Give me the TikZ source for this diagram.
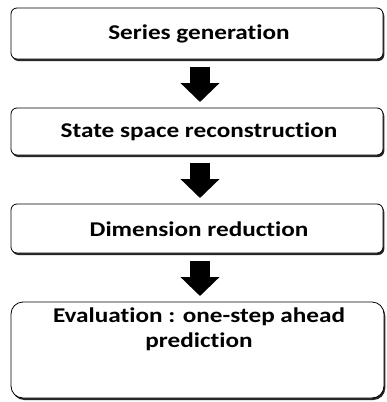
\documentclass[tikz,border=0pt]{standalone}
\usepackage{fontspec}
\setmainfont[Ligatures=NoCommon,FakeStretch=1.2]{Carlito}
\usetikzlibrary{arrows.meta,shadows}
\begin{document}
\begin{tikzpicture}[x=1pt,y=1pt,
  stagebox/.style={draw=black, line width=0.8pt, rounded corners=6pt, fill=white,
    drop shadow={shadow xshift=1.3pt, shadow yshift=-2pt, opacity=1, fill=black!85}},
  stagetext/.style={font=\bfseries\fontsize{21}{25}\selectfont, align=center},
  blockarrow/.style={line width=20pt, -{Triangle[length=19pt,width=38pt]}, shorten <=7pt, shorten >=6pt}]
\useasboundingbox (0,0) rectangle (386,-402);
\fill[white] (0,0) rectangle (386,-402);
\path[stagebox] (11,-8) rectangle (383,-59);
\node[stagetext] (s1) at (199,-34) {Series generation};
\path[stagebox] (11,-108) rectangle (383,-155);
\node[stagetext] (s2) at (199,-132) {State space reconstruction};
\path[stagebox] (11,-204) rectangle (383,-253);
\node[stagetext] (s3) at (199,-229) {Dimension reduction};
\path[stagebox, rounded corners=12pt] (11,-302) rectangle (384,-398);
\node[stagetext] (s4) at (199,-329) {Evaluation : one-step ahead\\prediction};
\coordinate (b1) at (200,-60);
\coordinate (t2) at (200,-108);
\coordinate (b2) at (200,-156);
\coordinate (t3) at (200,-204);
\coordinate (b3) at (200,-254);
\coordinate (t4) at (200,-302);
\draw[blockarrow] (b1) -- (t2);
\draw[blockarrow] (b2) -- (t3);
\draw[blockarrow] (b3) -- (t4);
\end{tikzpicture}
\end{document}
